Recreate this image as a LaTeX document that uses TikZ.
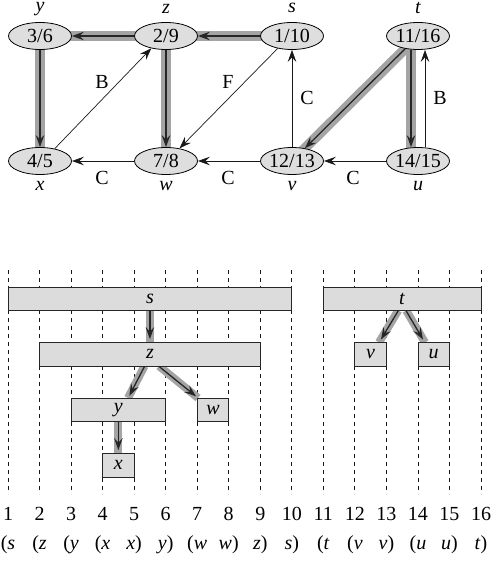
\documentclass[tikz,border=0pt]{standalone}
\usepackage{fontspec}
\setmainfont{Liberation Serif}
\newfontfamily\tms{Liberation Serif}
\usetikzlibrary{arrows.meta,calc,shapes.geometric}
\pgfdeclarelayer{bg}
\pgfsetlayers{bg,main}
\definecolor{vfill}{HTML}{DEDEDE}
\definecolor{bfill}{HTML}{DCDCDC}
\definecolor{bandgray}{HTML}{A4A4A4}
\tikzset{
  every node/.style={font=\tms\fontsize{20}{24}\selectfont},
  vtx/.style={ellipse, draw=black, line width=0.8pt, fill=vfill, minimum width=63pt, minimum height=27pt, inner sep=0pt},
  boxnode/.style={rectangle, draw=black!85, line width=0.8pt, fill=bfill, minimum height=23.5pt, inner sep=0pt},
  tip/.style={-{Stealth[length=12pt,width=8.5pt,inset=4.5pt]}},
  thinedge/.style={draw=black!90, line width=0.7pt, tip},
  bandtop/.style={draw=bandgray, line width=10pt},
  bandbot/.style={draw=bandgray, line width=8pt},
  treearrow/.style={draw=black!85, line width=1.3pt, tip},
  dashline/.style={draw=black!90, line width=0.8pt, dash pattern=on 4pt off 4pt},
  elab/.style={inner sep=0pt},
}
\begin{document}
\begin{tikzpicture}[x=1pt,y=-1pt]
\useasboundingbox (0,0) rectangle (496,561);
% ---------- top graph ----------
\node[vtx] (gy) at (40,36) {\makebox[0pt]{3/6}};
\node[vtx] (gz) at (166,36) {\makebox[0pt]{2/9}};
\node[vtx] (gs) at (292,36) {\makebox[0pt]{1/10}};
\node[vtx] (gt) at (418,36) {\makebox[0pt]{11/16}};
\node[vtx] (gx) at (40,161) {\makebox[0pt]{4/5}};
\node[vtx] (gw) at (166,161) {\makebox[0pt]{7/8}};
\node[vtx] (gv) at (292,161) {\makebox[0pt]{12/13}};
\node[vtx] (gu) at (418,161) {\makebox[0pt]{14/15}};
% vertex names
\node[elab] (ny) at (40,9) {\textit{y}};
\node[elab] (nz) at (166,8.5) {\textit{z}};
\node[elab] (ns) at (292,8) {\textit{s}};
\node[elab] (nt) at (418,7.5) {\textit{t}};
\node[elab] (nx) at (40,186) {\textit{x}};
\node[elab] (nw) at (166,186) {\textit{w}};
\node[elab] (nv) at (292,186) {\textit{v}};
\node[elab] (nu) at (418,186) {\textit{u}};
% bands
\begin{pgfonlayer}{bg}
\draw[bandtop] (gs.center) -- (gz.center);
\draw[bandtop] (gz.center) -- (gy.center);
\draw[bandtop] (gy.center) -- (gx.center);
\draw[bandtop] (gz.center) -- (gw.center);
\draw[bandtop] (gt.center) -- (gv.center);
\draw[bandtop] ($(gt.center)+(-7,0)$) -- ($(gu.center)+(-7,0)$);
\end{pgfonlayer}
% tree edges
\draw[treearrow] (gs) -- (gz);
\draw[treearrow] (gz) -- (gy);
\draw[treearrow] (gy) -- (gx);
\draw[treearrow] (gz) -- (gw);
\draw[treearrow] (gt) -- (gv);
\draw[treearrow] ($(gt.south)+(-7,0)$) -- ($(gu.north)+(-7,0)$);
% other edges
\draw[thinedge] (gx.40) -- (gz.220);
\draw[thinedge] (gs.221) -- (gw.43);
\draw[thinedge] (gw) -- (gx);
\draw[thinedge] (gv) -- (gw);
\draw[thinedge] (gv) -- (gs);
\draw[thinedge] (gu) -- (gv);
\draw[thinedge] ($(gu.north)+(7,0)$) -- ($(gt.south)+(7,0)$);
% edge labels
\node[elab] (lb1) at (102,82) {B};
\node[elab] (lf) at (228,82) {F};
\node[elab] (lc1) at (102,178) {C};
\node[elab] (lc2) at (228,178) {C};
\node[elab] (lc3) at (307,98) {C};
\node[elab] (lb2) at (440,98) {B};
\node[elab] (lc4) at (353,178) {C};
% ---------- parenthesis structure ----------
\begin{pgfonlayer}{bg}
\foreach \i in {1,...,16}
  \draw[dashline] ({8+31.533*(\i-1)},270) -- ({8+31.533*(\i-1)},494);
\end{pgfonlayer}
\foreach \i in {1,...,16}
  \node[elab] (num\i) at ({8+31.533*(\i-1)},514) {\i};
\foreach \t [count=\i] in {{(\textit{s}},{(\textit{z}},{(\textit{y}},{(\textit{x}},{\textit{x})},{\textit{y})},{(\textit{w}},{\textit{w})},{\textit{z})},{\textit{s})},{(\textit{t}},{(\textit{v}},{\textit{v})},{(\textit{u}},{\textit{u})},{\textit{t})}}
  \node[elab] (par\i) at ({8+31.533*(\i-1)},545) {\t};
% bands (bottom)
\begin{pgfonlayer}{bg}
\draw[bandbot] (149.9,310.5) -- (149.9,342.5);
\draw[bandbot] (144.5,366) -- (128,398);
\draw[bandbot] (159,366) -- (198,398);
\draw[bandbot] (118.37,421.5) -- (118.37,453.5);
\draw[bandbot] (398.2,310.5) -- (379,342.5);
\draw[bandbot] (406.2,310.5) -- (425,342.5);
\end{pgfonlayer}
% boxes
\node[boxnode, minimum width=283.8pt] (bs) at (149.9,298.75) {\textit{s}};
\node[boxnode, minimum width=220.74pt] (bz) at (149.9,354.25) {\textit{z}};
\node[boxnode, minimum width=94.6pt] (by) at (118.37,409.75) {\textit{y}};
\node[boxnode, minimum width=31.53pt] (bw) at (212.97,409.75) {\textit{w}};
\node[boxnode, minimum width=31.53pt] (bx) at (118.37,465.25) {\textit{x}};
\node[boxnode, minimum width=157.67pt] (bt) at (402.17,298.75) {\textit{t}};
\node[boxnode, minimum width=31.53pt] (bv) at (370.63,354.25) {\textit{v}};
\node[boxnode, minimum width=31.53pt] (bu) at (433.7,354.25) {\textit{u}};
% tree arrows (bottom)
\draw[treearrow, shorten >=3pt] (bs.south) -- (bz.north);
\draw[treearrow, shorten >=2pt] ($(bz.south)+(-5.4,0)$) -- ($(by.north east)+(-37.67,0)$);
\draw[treearrow, shorten >=2pt] ($(bz.south)+(9.1,0)$) -- ($(bw.north west)+(0.8,0)$);
\draw[treearrow, shorten >=3pt] (by.south) -- (bx.north);
\draw[treearrow, shorten >=3pt] ($(bt.south)+(-4,0)$) -- ($(bv.north east)+(-7.4,0)$);
\draw[treearrow, shorten >=3pt] ($(bt.south)+(4,0)$) -- ($(bu.north west)+(7,0)$);
\end{tikzpicture}
\end{document}
